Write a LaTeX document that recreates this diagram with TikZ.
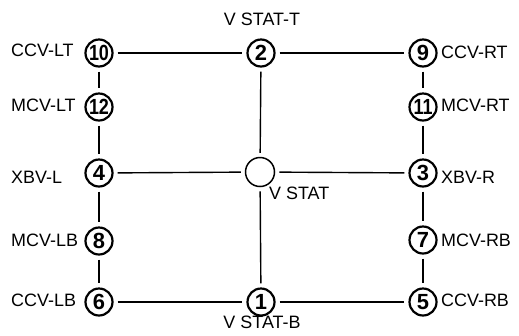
\documentclass[tikz,border=0pt]{standalone}
\usepackage{fontspec}
\setmainfont{Liberation Sans}
\begin{document}
\begin{tikzpicture}[x=1bp,y=-1bp,
  num/.style={circle,draw,line width=2.2bp,minimum size=27bp,inner sep=0pt,
    font=\fontsize{22}{22}\selectfont\bfseries},
  hub/.style={circle,draw,line width=1.5bp,minimum size=29bp,inner sep=0pt},
  lbl/.style={font=\fontsize{18}{20}\selectfont,inner sep=0pt},
  lleft/.style={lbl,anchor=west},
  wire/.style={line width=1.4bp,shorten >=4bp,shorten <=4bp}]
\useasboundingbox (0,0) rectangle (519,335);
% nodes
\node[num] (n10) at (99,53) {\scalebox{0.82}[1]{10}};
\node[num] (n12) at (99,107) {\scalebox{0.82}[1]{12}};
\node[num] (n4) at (99,173) {4};
\node[num] (n8) at (99,241) {8};
\node[num] (n6) at (99,302) {6};
\node[num] (n2) at (261,53) {2};
\node[hub] (vs) at (260,172) {};
\node[num] (n1) at (261,302) {1};
\node[num] (n9) at (423,53) {9};
\node[num] (n11) at (423,107) {\scalebox{0.82}[1]{11}};
\node[num] (n3) at (423,173) {3};
\node[num] (n7) at (423,240) {7};
\node[num] (n5) at (423,302) {5};
% labels
\node[lleft] (l10) at (11,50) {CCV-LT};
\node[lleft] (l12) at (11,105) {MCV-LT};
\node[lleft] (l4) at (11,177) {XBV-L};
\node[lleft] (l8) at (11,240) {MCV-LB};
\node[lleft] (l6) at (11,300) {CCV-LB};
\node[lleft] (l9) at (441,52) {CCV-RT};
\node[lleft] (l11) at (441,105) {MCV-RT};
\node[lleft] (l3) at (441,177) {XBV-R};
\node[lleft] (l7) at (441,240) {MCV-RB};
\node[lleft] (l5) at (441,300) {CCV-RB};
\node[lbl] (lt) at (262,19) {V STAT-T};
\node[lbl] (lb) at (262,322) {V STAT-B};
\node[lleft] (lv) at (269,193) {V STAT};
% connectors
\draw[wire] (n10) -- (n2);
\draw[wire] (n2) -- (n9);
\draw[wire] (n4) -- (vs);
\draw[wire] (vs) -- (n3);
\draw[wire] (n6) -- (n1);
\draw[wire] (n1) -- (n5);
\draw[wire] (n10) -- (n12);
\draw[wire] (n12) -- (n4);
\draw[wire] (n4) -- (n8);
\draw[wire] (n8) -- (n6);
\draw[wire] (n9) -- (n11);
\draw[wire] (n11) -- (n3);
\draw[wire] (n3) -- (n7);
\draw[wire] (n7) -- (n5);
\draw[wire] (n2) -- (vs);
\draw[wire] (vs) -- (n1);
\end{tikzpicture}
\end{document}
